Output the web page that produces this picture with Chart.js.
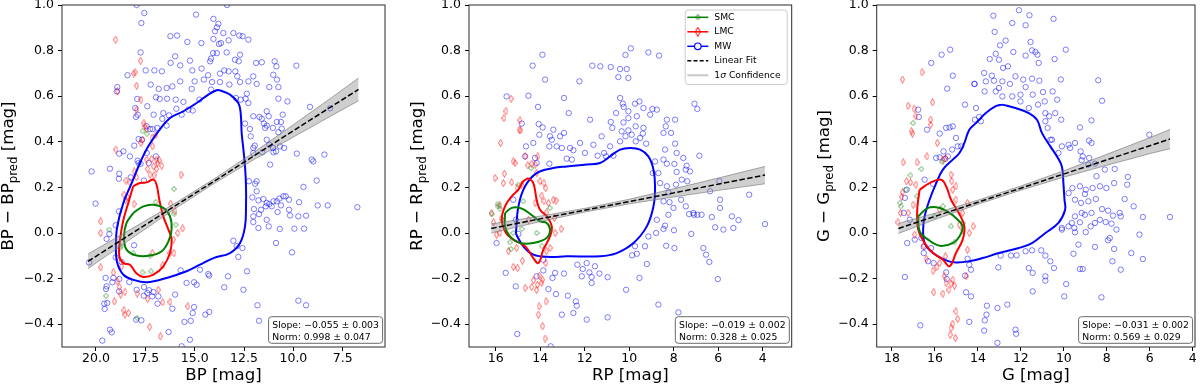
<!DOCTYPE html>
<html><head><meta charset="utf-8">
<script src="https://cdn.jsdelivr.net/npm/chart.js@4.4.1/dist/chart.umd.min.js"></script>
<style>
html,body{margin:0;padding:0;background:#fff;}
body{width:1200px;height:388px;position:relative;overflow:hidden;}
canvas{position:absolute;top:0;}
</style></head><body>
<canvas id="c1" width="400" height="388" style="left:0px"></canvas>
<canvas id="c2" width="400" height="388" style="left:400px"></canvas>
<canvas id="c3" width="400" height="388" style="left:800px"></canvas>
<script>
// ---------------- tick labels ----------------
const bpTicks = [20, 17.5, 15, 12.5, 10, 7.5];
const rpTicks = [16, 14, 12, 10, 8, 6, 4];
const gTicks = [18, 16, 14, 12, 10, 8, 6, 4];
const yTicks = [-0.4, -0.2, 0, 0.2, 0.4, 0.6, 0.8, 1.0];
const xTitles = ['BP [mag]', 'RP [mag]', 'G [mag]'];
const yBands = ['BP', 'RP', 'G'];
const seriesNames = ['SMC', 'LMC', 'MW'];

// ---------------- fit results ----------------
const fitSlope = [-0.055, -0.019, -0.031];
const fitSlopeErr = [0.003, 0.002, 0.002];
const fitNorm = [0.998, 0.328, 0.569];
const fitNormErr = [0.047, 0.025, 0.029];

// fitted lines (end points) and 1-sigma band
const bpFit = [[20.4, -0.124], [6.7, 0.630]];
const rpFit = [[16.2, 0.020], [3.9, 0.254]];
const gFit = [[17.7, 0.020], [5.06, 0.412]];
const bpBandX = [20.4, 18, 16, 14, 12, 10, 8, 6.7];
const bpBandUpper = [-0.092, 0.028, 0.130, 0.238, 0.354, 0.475, 0.598, 0.680];
const bpBandLower = [-0.156, -0.012, 0.106, 0.218, 0.322, 0.421, 0.518, 0.580];
const rpBandX = [16.2, 14, 12, 10, 8, 6, 3.9];
const rpBandUpper = [0.040, 0.074, 0.108, 0.148, 0.194, 0.241, 0.292];
const rpBandLower = [0.000, 0.050, 0.092, 0.128, 0.158, 0.187, 0.216];
const gBandX = [17.7, 16, 14, 12, 10, 8, 6, 5.06];
const gBandUpper = [0.042, 0.087, 0.144, 0.206, 0.273, 0.345, 0.418, 0.454];
const gBandLower = [-0.002, 0.059, 0.126, 0.188, 0.245, 0.297, 0.348, 0.370];

// ---------------- contours ----------------
const bpMWContour = [[13.72,0.626],[13.21,0.607],[12.79,0.570],[12.67,0.526],[12.62,0.439],[12.53,0.365],[12.45,0.292],[12.40,0.205],[12.40,0.117],[12.45,0.029],[12.70,-0.044],[13.21,-0.088],[14.05,-0.110],[14.73,-0.139],[15.41,-0.168],[16.42,-0.197],[17.43,-0.216],[18.11,-0.205],[18.61,-0.183],[18.92,-0.132],[18.99,-0.058],[18.92,0.029],[18.61,0.132],[18.19,0.219],[17.77,0.307],[17.35,0.380],[16.84,0.446],[16.25,0.504],[15.57,0.534],[14.90,0.570],[14.31,0.607],[13.89,0.626]];
const bpLMCContour = [[18.11,0.205],[17.77,0.219],[17.43,0.222],[17.09,0.234],[16.93,0.212],[16.79,0.146],[16.59,0.073],[16.33,0.015],[16.17,-0.029],[16.25,-0.088],[16.59,-0.146],[17.09,-0.183],[17.60,-0.193],[17.94,-0.178],[18.28,-0.139],[18.61,-0.132],[18.82,-0.102],[18.78,-0.029],[18.61,0.058],[18.36,0.132],[18.19,0.183]];
const bpSMCContour = [[18.11,0.088],[17.60,0.117],[17.09,0.124],[16.59,0.110],[16.25,0.073],[16.17,0.015],[16.33,-0.037],[16.67,-0.080],[17.26,-0.099],[17.94,-0.099],[18.45,-0.073],[18.58,-0.015],[18.45,0.044]];
const rpMWContour = [[15.09,0.000],[14.98,0.117],[14.68,0.205],[14.16,0.263],[13.41,0.285],[12.81,0.292],[11.91,0.300],[11.31,0.307],[10.86,0.336],[10.41,0.366],[9.96,0.373],[9.51,0.366],[9.14,0.336],[8.91,0.278],[8.84,0.205],[8.91,0.117],[9.21,0.029],[9.81,-0.044],[10.56,-0.088],[11.31,-0.102],[12.81,-0.102],[13.56,-0.105],[14.31,-0.095],[14.76,-0.058],[15.03,-0.015]];
const rpLMCContour = [[14.53,0.241],[14.31,0.219],[14.16,0.146],[14.01,0.102],[13.71,0.073],[13.48,0.029],[13.56,-0.015],[13.86,-0.073],[14.08,-0.132],[14.31,-0.110],[14.68,-0.058],[15.21,-0.029],[15.54,0.000],[15.73,0.058],[15.58,0.117],[15.28,0.161],[14.98,0.190],[14.76,0.227]];
const rpSMCContour = [[15.58,0.088],[15.28,0.110],[14.91,0.110],[14.61,0.095],[14.31,0.073],[14.01,0.051],[13.71,0.044],[13.56,0.015],[13.71,-0.022],[14.31,-0.044],[14.91,-0.044],[15.36,-0.015],[15.58,0.029]];
const gMWContour = [[12.86,0.563],[12.25,0.548],[11.63,0.526],[11.25,0.497],[11.02,0.439],[10.63,0.380],[10.32,0.336],[10.09,0.292],[10.02,0.219],[9.97,0.146],[9.94,0.102],[10.25,0.044],[10.86,0.000],[11.48,-0.044],[12.09,-0.066],[13.02,-0.088],[13.78,-0.110],[14.40,-0.124],[15.02,-0.129],[15.48,-0.120],[16.09,-0.088],[16.48,-0.044],[16.55,0.015],[16.48,0.073],[16.25,0.146],[15.94,0.219],[15.63,0.278],[15.17,0.322],[14.86,0.351],[14.63,0.395],[14.40,0.453],[14.09,0.482],[13.63,0.526],[13.17,0.556]];
const gLMCContour = [[16.71,0.190],[16.25,0.219],[15.71,0.234],[15.48,0.205],[15.25,0.146],[14.89,0.088],[14.63,0.029],[14.71,-0.029],[15.02,-0.088],[15.32,-0.146],[15.63,-0.117],[16.09,-0.088],[16.48,-0.044],[16.78,0.015],[16.83,0.088],[16.78,0.146]];
const gSMCContour = [[16.78,0.073],[16.32,0.110],[15.78,0.110],[15.32,0.088],[14.94,0.058],[14.71,0.029],[14.86,-0.015],[15.17,-0.044],[15.78,-0.056],[16.32,-0.029],[16.71,0.007]];

// ---------------- scatter points ----------------
const bpMW = [[17.94,1.0],[13.36,1.0],[17.55,0.965],[14.93,0.958],[17.70,0.921],[14.05,0.939],[13.80,0.917],[13.87,0.902],[13.97,0.885],[13.55,0.877],[13.04,0.877],[12.74,0.866],[12.57,0.863],[16.23,0.863],[15.89,0.866],[15.37,0.838],[14.66,0.833],[14.05,0.851],[13.67,0.833],[13.28,0.845],[12.28,0.848],[14.07,0.789],[13.88,0.789],[13.38,0.792],[13.77,0.829],[17.74,0.792],[15.99,0.775],[12.70,0.782],[14.17,0.765],[14.22,0.753],[12.96,0.760],[12.77,0.753],[11.60,0.749],[11.89,0.746],[10.95,0.753],[9.85,0.734],[10.86,0.731],[16.22,0.746],[15.73,0.735],[15.24,0.756],[17.48,0.713],[17.04,0.713],[16.66,0.709],[18.40,0.692],[15.12,0.713],[14.65,0.721],[14.32,0.692],[13.72,0.699],[13.50,0.713],[13.28,0.709],[12.94,0.709],[12.84,0.687],[12.03,0.687],[11.02,0.694],[10.83,0.673],[15.73,0.665],[15.00,0.665],[14.54,0.673],[14.12,0.662],[13.72,0.662],[12.70,0.662],[12.28,0.665],[11.86,0.654],[18.92,0.640],[18.94,0.621],[17.23,0.651],[16.82,0.632],[16.42,0.636],[16.13,0.643],[15.15,0.632],[14.17,0.629],[13.24,0.651],[12.36,0.611],[11.22,0.640],[10.76,0.640],[17.91,0.588],[16.96,0.595],[16.77,0.588],[16.40,0.589],[15.96,0.585],[15.57,0.575],[14.76,0.585],[12.91,0.592],[12.67,0.585],[12.42,0.589],[12.28,0.570],[10.76,0.589],[10.30,0.577],[9.16,0.553],[8.14,0.547],[18.01,0.548],[17.40,0.556],[17.08,0.519],[16.59,0.526],[16.30,0.516],[15.93,0.545],[15.66,0.519],[15.32,0.541],[15.10,0.537],[17.97,0.509],[17.89,0.519],[17.43,0.468],[17.13,0.456],[16.89,0.461],[16.64,0.501],[16.42,0.471],[12.03,0.512],[11.72,0.509],[11.60,0.501],[11.35,0.534],[11.25,0.512],[10.54,0.519],[10.63,0.487],[12.45,0.480],[11.49,0.480],[11.35,0.471],[11.43,0.461],[11.04,0.461],[10.84,0.487],[10.59,0.458],[10.76,0.442],[12.20,0.456],[17.26,0.456],[17.67,0.409],[18.06,0.383],[17.84,0.412],[17.43,0.351],[16.96,0.336],[12.16,0.424],[11.96,0.383],[12.03,0.373],[11.35,0.409],[11.22,0.387],[11.03,0.373],[10.68,0.380],[10.47,0.373],[11.01,0.354],[12.03,0.351],[11.57,0.354],[11.18,0.300],[10.88,0.358],[9.83,0.348],[9.07,0.322],[8.99,0.314],[8.43,0.344],[18.61,0.358],[18.82,0.348],[18.28,0.336],[17.89,0.317],[17.84,0.307],[17.74,0.303],[17.33,0.307],[19.29,0.282],[18.82,0.260],[20.22,0.270],[18.84,0.238],[18.24,0.244],[17.57,0.230],[12.25,0.227],[11.86,0.227],[11.94,0.216],[11.86,0.183],[11.77,0.143],[11.52,0.149],[12.08,0.156],[12.00,0.105],[11.64,0.102],[11.40,0.117],[11.35,0.132],[11.10,0.117],[11.22,0.127],[11.01,0.139],[10.84,0.139],[10.71,0.151],[10.51,0.161],[10.39,0.161],[10.63,0.121],[10.80,0.092],[10.22,0.146],[10.22,0.102],[9.71,0.135],[9.49,0.202],[8.82,0.230],[8.77,0.121],[8.26,0.121],[9.75,0.073],[9.36,0.076],[10.17,0.077],[9.95,0.019],[9.46,0.019],[10.69,0.018],[11.25,0.029],[11.35,0.058],[12.03,0.048],[11.77,0.022],[11.74,0.083],[10.07,-0.085],[12.03,0.073],[10.88,-0.044],[9.75,-0.297],[9.36,-0.317],[11.82,-0.317],[11.74,-0.385],[6.76,0.113],[13.04,-0.034],[12.87,-0.058],[12.58,-0.066],[12.79,-0.105],[12.53,-0.249],[12.35,-0.168],[13.31,-0.190],[13.50,-0.238],[14.31,-0.180],[14.26,-0.187],[14.73,-0.161],[15.71,-0.164],[15.41,-0.219],[15.03,-0.216],[14.90,-0.227],[15.03,-0.325],[15.10,-0.351],[14.46,-0.358],[14.26,-0.346],[15.52,-0.390],[15.20,-0.385],[15.24,-0.468],[15.66,-0.497],[16.32,-0.434],[16.13,-0.332],[15.99,-0.270],[16.88,-0.310],[17.09,-0.259],[17.31,-0.251],[17.57,-0.237],[17.40,-0.263],[17.15,-0.278],[16.84,-0.278],[17.94,-0.249],[18.31,-0.215],[18.82,-0.202],[19.12,-0.197],[19.17,-0.216],[19.51,-0.197],[19.46,-0.234],[19.49,-0.246],[18.83,-0.256],[19.58,-0.310],[19.56,-0.333],[19.43,-0.307],[19.29,-0.424],[19.20,-0.436],[19.68,-0.472],[17.70,-0.383],[17.97,-0.380],[17.58,-0.275],[19.00,-0.107],[18.70,-0.127],[19.46,-0.026],[19.32,-0.004],[19.00,0.034],[18.83,0.095],[18.07,-0.054],[20.35,-0.129],[20.02,0.129]];
const bpLMC = [[19.00,0.848],[18.92,0.621],[17.94,0.646],[17.74,0.756],[18.08,0.699],[18.02,0.705],[17.72,0.585],[17.94,0.541],[17.57,0.482],[17.52,0.468],[17.42,0.456],[17.72,0.395],[17.64,0.409],[17.16,0.417],[16.96,0.431],[17.13,0.380],[18.99,0.366],[17.43,0.322],[17.18,0.325],[16.93,0.322],[16.79,0.319],[16.67,0.295],[16.88,0.307],[17.08,0.292],[16.93,0.281],[17.38,0.281],[17.26,0.256],[17.06,0.253],[18.06,0.270],[17.94,0.244],[15.69,0.256],[18.58,0.168],[18.41,0.158],[18.51,0.146],[18.07,0.127],[16.22,0.129],[16.00,0.095],[15.61,0.020],[15.86,0.000],[16.08,-0.029],[16.05,-0.088],[16.25,-0.088],[16.62,-0.142],[19.76,0.051],[19.76,0.000],[19.76,-0.151],[19.12,-0.173],[18.92,-0.212],[18.82,-0.237],[18.75,-0.270],[19.07,-0.300],[18.58,-0.339],[18.53,-0.358],[18.36,-0.351],[18.53,-0.259],[17.91,-0.266],[17.38,-0.289],[16.84,-0.249],[16.62,-0.304],[16.25,-0.303],[15.35,-0.322],[16.74,-0.453],[17.28,-0.412],[18.70,-0.146],[17.15,-0.088],[18.48,0.230],[18.28,0.222]];
const bpSMC = [[16.05,0.193],[16.98,0.136],[17.43,0.436],[17.64,0.446],[19.32,0.015],[18.78,-0.066],[18.75,-0.058],[18.11,-0.088],[17.26,-0.099],[17.21,-0.168],[17.64,-0.173],[19.49,-0.275],[17.91,-0.373],[16.03,0.085],[15.96,0.037]];

const rpMW = [[13.90,0.782],[14.34,0.734],[13.78,0.673],[12.24,0.665],[11.66,0.734],[11.30,0.731],[10.83,0.728],[10.41,0.719],[10.11,0.719],[10.04,0.680],[10.49,0.684],[10.17,0.781],[9.93,0.810],[9.14,0.792],[8.66,0.778],[15.51,0.599],[14.53,0.602],[12.93,0.592],[14.10,0.553],[14.83,0.480],[14.64,0.380],[14.07,0.478],[13.89,0.463],[14.04,0.431],[13.41,0.453],[13.56,0.424],[13.11,0.424],[12.72,0.526],[12.93,0.439],[13.48,0.409],[13.59,0.380],[13.26,0.380],[13.03,0.373],[12.66,0.373],[12.51,0.363],[12.21,0.395],[11.76,0.497],[11.99,0.351],[11.61,0.387],[11.24,0.424],[11.42,0.339],[10.86,0.380],[10.71,0.339],[11.04,0.336],[11.13,0.351],[10.59,0.526],[10.41,0.592],[10.29,0.567],[10.25,0.553],[10.04,0.534],[9.74,0.567],[9.54,0.577],[9.36,0.548],[8.96,0.544],[8.76,0.541],[9.06,0.519],[9.66,0.512],[10.04,0.504],[10.26,0.485],[10.83,0.487],[10.76,0.461],[10.34,0.446],[10.04,0.450],[9.71,0.468],[9.36,0.461],[9.39,0.436],[9.51,0.417],[9.89,0.431],[10.17,0.424],[10.41,0.402],[9.71,0.402],[9.24,0.392],[8.46,0.439],[8.31,0.497],[7.94,0.497],[8.12,0.439],[7.94,0.392],[8.36,0.468],[8.39,0.366],[7.87,0.351],[7.57,0.329],[7.42,0.295],[7.46,0.278],[6.85,0.339],[7.07,0.567],[6.94,0.544],[7.27,0.270],[8.46,0.322],[8.31,0.304],[7.97,0.303],[7.87,0.268],[7.64,0.234],[7.39,0.227],[8.84,0.314],[8.94,0.263],[8.69,0.263],[8.61,0.219],[8.31,0.205],[7.90,0.212],[8.24,0.178],[8.46,0.139],[8.19,0.135],[8.01,0.110],[7.67,0.146],[7.46,0.117],[7.31,0.083],[7.09,0.080],[6.94,0.080],[6.75,0.080],[7.21,-0.004],[7.99,0.012],[8.39,0.032],[8.76,0.058],[8.24,0.080],[8.46,0.018],[8.79,0.000],[8.34,-0.056],[7.97,-0.066],[9.14,-0.015],[9.29,-0.058],[9.74,-0.058],[9.66,-0.091],[9.87,-0.098],[9.21,-0.136],[9.54,-0.197],[8.69,-0.314],[7.79,-0.348],[10.14,-0.249],[10.97,-0.194],[11.54,-0.146],[11.34,-0.178],[11.79,-0.173],[11.69,-0.193],[12.09,-0.158],[12.33,-0.139],[12.13,-0.190],[11.91,-0.132],[11.69,-0.219],[11.91,-0.380],[10.97,-0.370],[12.40,-0.300],[12.36,-0.319],[12.51,-0.351],[12.76,-0.275],[13.03,-0.358],[13.29,-0.268],[13.33,-0.175],[13.45,-0.197],[13.63,-0.246],[12.93,-0.178],[13.86,-0.164],[13.86,-0.117],[14.16,-0.190],[13.53,-0.497],[15.03,-0.443],[15.10,-0.234],[15.55,-0.175],[14.98,-0.004],[15.09,0.058],[15.21,0.146],[14.68,0.336],[6.29,0.070],[6.14,0.025],[5.92,0.146],[5.92,0.110],[6.02,-0.202],[6.40,-0.127],[6.67,-0.066],[6.55,-0.095],[5.39,0.073],[5.77,0.015],[5.32,0.022],[5.09,0.056],[4.61,0.168],[3.90,0.039],[5.95,0.227],[6.37,0.183],[7.12,0.088],[15.96,-0.044],[14.31,0.395],[14.16,0.307],[14.23,0.329],[13.59,0.304],[12.81,0.326],[12.58,0.322]];
const rpLMC = [[15.31,0.589],[15.54,0.534],[15.63,0.504],[15.78,0.395],[14.91,0.494],[14.94,0.453],[14.88,0.450],[14.68,0.336],[15.21,0.314],[15.13,0.307],[15.61,0.260],[16.03,0.241],[15.66,0.219],[16.18,0.088],[16.10,0.047],[15.81,0.121],[15.28,0.222],[15.03,0.197],[14.83,0.212],[14.56,0.297],[14.38,0.304],[14.23,0.300],[14.11,0.336],[14.16,0.263],[14.01,0.227],[13.83,0.219],[13.75,0.197],[13.93,0.164],[13.63,0.132],[13.41,0.146],[13.29,0.142],[13.83,0.139],[14.23,0.132],[13.71,0.091],[13.36,0.066],[13.06,0.018],[13.33,0.000],[13.56,-0.066],[13.71,-0.080],[13.75,-0.132],[14.04,-0.187],[13.90,-0.205],[14.13,-0.227],[14.38,-0.237],[14.68,-0.241],[14.31,-0.208],[14.16,-0.249],[13.93,-0.219],[13.74,-0.300],[14.05,-0.322],[14.08,-0.358],[13.89,-0.409],[13.78,-0.463],[14.80,-0.121],[15.01,-0.154],[15.21,-0.149],[15.43,-0.080],[15.81,0.000],[15.96,-0.007],[15.06,-0.066],[14.53,0.058],[15.76,0.061]];
const rpSMC = [[16.18,0.083],[15.91,0.117],[15.81,0.107],[15.91,0.127],[15.66,0.058],[15.36,-0.041],[15.31,-0.070],[14.41,0.285],[14.98,0.212],[14.76,0.139],[13.56,0.110],[13.93,-0.058],[14.16,0.000],[15.21,0.000],[14.83,0.018]];

const gMW = [[13.28,0.953],[12.09,0.977],[11.60,0.955],[10.48,0.939],[12.40,0.921],[11.78,0.911],[13.22,0.882],[12.71,0.844],[12.97,0.823],[12.35,0.794],[11.55,0.838],[11.48,0.801],[11.32,0.794],[11.23,0.782],[13.17,0.786],[13.02,0.760],[13.45,0.763],[11.78,0.778],[11.17,0.746],[10.43,0.763],[9.91,0.804],[12.60,0.731],[12.83,0.724],[13.71,0.702],[13.35,0.690],[12.25,0.687],[11.89,0.673],[11.48,0.677],[11.14,0.668],[10.14,0.673],[13.25,0.668],[12.86,0.665],[12.51,0.654],[11.78,0.640],[14.15,0.654],[13.69,0.621],[13.17,0.621],[13.02,0.636],[12.86,0.599],[12.40,0.599],[12.02,0.607],[11.45,0.607],[10.97,0.618],[10.52,0.621],[10.31,0.585],[10.89,0.577],[11.20,0.563],[11.63,0.548],[12.02,0.577],[10.86,0.526],[10.68,0.512],[10.40,0.526],[10.12,0.497],[10.86,0.490],[10.75,0.461],[10.55,0.409],[10.62,0.409],[10.25,0.351],[10.09,0.380],[9.78,0.387],[9.71,0.373],[9.48,0.395],[9.25,0.463],[8.71,0.494],[8.40,0.670],[8.22,0.580],[8.83,0.405],[8.71,0.395],[9.22,0.358],[9.12,0.336],[9.17,0.319],[8.86,0.300],[8.82,0.329],[8.55,0.304],[8.48,0.249],[8.09,0.278],[7.63,0.281],[7.66,0.219],[8.02,0.197],[8.32,0.205],[8.66,0.197],[8.98,0.190],[9.25,0.205],[9.60,0.197],[9.78,0.175],[9.48,0.146],[9.20,0.132],[9.02,0.171],[8.86,0.139],[8.51,0.149],[8.22,0.105],[7.94,0.098],[8.71,0.088],[9.02,0.080],[9.17,0.088],[9.48,0.073],[9.63,0.044],[9.78,0.029],[9.51,0.022],[9.25,0.047],[8.75,0.029],[8.55,0.044],[8.32,0.058],[8.05,0.048],[7.78,0.041],[7.71,0.076],[7.40,0.088],[7.35,0.073],[7.05,0.212],[7.02,0.246],[7.17,0.149],[6.75,0.117],[6.32,0.070],[6.48,-0.007],[6.86,-0.088],[6.32,-0.114],[7.55,0.015],[7.86,-0.022],[7.94,-0.032],[7.66,-0.070],[7.74,-0.124],[7.35,-0.161],[8.25,-0.282],[8.55,-0.061],[8.98,0.004],[9.32,-0.051],[9.48,0.003],[9.55,-0.091],[9.25,-0.158],[9.12,-0.158],[9.89,-0.224],[9.98,-0.278],[10.09,0.015],[10.09,0.022],[10.46,-0.154],[10.63,-0.124],[10.86,-0.099],[11.05,-0.076],[11.48,-0.076],[11.78,-0.080],[12.20,-0.098],[12.46,-0.099],[12.94,-0.099],[13.05,-0.151],[11.63,-0.154],[11.45,-0.175],[10.86,-0.190],[10.86,-0.209],[11.45,-0.256],[12.63,-0.314],[13.09,-0.329],[13.58,-0.319],[13.60,-0.358],[13.68,-0.383],[13.71,-0.428],[13.09,-0.482],[12.25,-0.424],[12.22,-0.442],[14.40,-0.390],[14.32,-0.278],[14.55,-0.260],[14.60,-0.187],[14.32,-0.161],[14.40,-0.139],[14.48,-0.113],[15.45,-0.202],[15.48,-0.173],[16.06,-0.132],[16.18,-0.066],[16.52,-0.088],[16.32,-0.124],[16.52,-0.061],[16.63,-0.022],[16.94,-0.029],[17.29,-0.044],[17.40,-0.193],[16.68,-0.405],[17.17,0.058],[17.45,0.088],[17.40,0.154],[17.32,0.190],[16.48,0.234],[16.09,0.216],[15.94,0.329],[15.60,0.358],[15.20,0.366],[15.48,0.461],[15.32,0.463],[15.17,0.468],[15.43,0.633],[15.17,0.690],[15.69,0.782],[15.29,0.804],[16.17,0.746],[16.37,0.453],[16.78,0.541],[16.75,0.509],[15.78,0.436],[15.02,0.417],[14.94,0.380],[14.78,0.380],[14.60,0.563],[14.09,0.548],[13.94,0.509],[13.86,0.490],[13.63,0.665],[14.14,0.497],[14.17,0.654],[15.78,0.332],[15.52,0.325],[15.40,0.336],[5.06,0.070],[6.02,0.431]];
const gLMC = [[17.51,0.673],[16.60,0.705],[16.11,0.573],[17.25,0.558],[16.97,0.545],[16.89,0.512],[17.09,0.446],[17.05,0.436],[16.20,0.497],[16.20,0.475],[15.89,0.395],[16.37,0.336],[17.48,0.310],[16.83,0.310],[17.32,0.227],[17.14,0.222],[16.89,0.212],[17.51,0.178],[17.55,0.158],[17.72,0.047],[17.60,0.088],[17.25,0.088],[17.02,0.124],[15.63,0.322],[15.51,0.329],[15.25,0.256],[15.22,0.227],[15.17,0.190],[15.02,0.205],[15.02,0.146],[14.71,0.088],[14.48,0.132],[14.86,0.037],[14.71,0.015],[14.40,0.000],[14.22,0.029],[14.49,-0.073],[15.78,0.102],[16.94,-0.007],[16.52,-0.056],[16.40,-0.113],[16.09,-0.165],[15.91,-0.149],[15.78,-0.132],[16.06,-0.260],[15.63,-0.266],[15.48,-0.219],[15.35,-0.249],[15.25,-0.222],[15.09,-0.231],[15.17,-0.205],[15.55,-0.190],[15.02,-0.344],[14.94,-0.377],[15.17,-0.398],[15.25,-0.417],[15.29,-0.446],[15.05,-0.461],[14.55,-0.190],[15.51,-0.102]];
const gSMC = [[17.63,0.132],[17.58,0.117],[17.35,0.190],[17.14,0.253],[17.02,0.482],[16.63,0.281],[16.83,0.161],[15.66,0.311],[15.63,0.117],[15.25,0.029],[15.09,-0.041],[14.71,0.044],[16.02,0.073]];

// ---------------- helpers ----------------
Chart.defaults.font.family = "'DejaVu Sans', sans-serif";
Chart.defaults.color = '#000';
const FONT = "'DejaVu Sans', sans-serif";
const toXY = a => a.map(p => ({x: p[0], y: p[1]}));
const closed = a => toXY(a.concat([a[0]]));
const bandXY = (xs, ys) => xs.map((x, i) => ({x: x, y: ys[i]}));
const fmtSigned = v => (v < 0 ? '\u2212' : '') + Math.abs(v).toFixed(3);

function diamondImg(w, h, color) {
  const c = document.createElement('canvas');
  c.width = w; c.height = h;
  const g = c.getContext('2d');
  g.strokeStyle = color; g.lineWidth = 1;
  g.beginPath();
  g.moveTo(w / 2, 0.5); g.lineTo(w - 0.5, h / 2); g.lineTo(w / 2, h - 0.5); g.lineTo(0.5, h / 2);
  g.closePath(); g.stroke();
  return c;
}
const redDiamond = diamondImg(5, 8, 'rgba(255,0,0,0.6)');
const greenDiamond = diamondImg(6, 6, 'rgba(0,128,0,0.65)');
const legRed = diamondImg(6, 10, 'rgb(255,0,0)');
const legGreen = diamondImg(6, 6, 'rgb(0,128,0)');

function roundRect(ctx, x, y, w, h, r) {
  ctx.beginPath();
  ctx.moveTo(x + r, y);
  ctx.lineTo(x + w - r, y); ctx.arcTo(x + w, y, x + w, y + r, r);
  ctx.lineTo(x + w, y + h - r); ctx.arcTo(x + w, y + h, x + w - r, y + h, r);
  ctx.lineTo(x + r, y + h); ctx.arcTo(x, y + h, x, y + h - r, r);
  ctx.lineTo(x, y + r); ctx.arcTo(x, y, x + r, y, r);
  ctx.closePath();
}

function drawLegend(ctx, right, top) {
  const w = 102, h = 74.5;
  const lx = right - 5 - w, ly = top + 4.5;
  roundRect(ctx, lx + 0.5, ly + 0.5, w, h, 3);
  ctx.fillStyle = 'rgba(255,255,255,0.85)'; ctx.fill();
  ctx.strokeStyle = '#cccccc'; ctx.lineWidth = 1; ctx.stroke();
  const x0 = lx + 2.6, x1 = lx + 23.6, xm = (x0 + x1) / 2, tx = lx + 29.6;
  const rows = [0, 1, 2, 3, 4].map(i => ly + 7.8 + i * 14.5);
  const line = (y, col, lw, dash) => {
    ctx.save(); ctx.strokeStyle = col; ctx.lineWidth = lw; ctx.setLineDash(dash || []);
    ctx.beginPath(); ctx.moveTo(x0, y); ctx.lineTo(x1, y); ctx.stroke(); ctx.restore();
  };
  line(rows[0], 'green', 1.5); ctx.drawImage(legGreen, xm - 3, rows[0] - 3);
  line(rows[1], 'red', 1.5); ctx.fillStyle = '#fff'; ctx.drawImage(legRed, xm - 3, rows[1] - 5);
  line(rows[2], 'blue', 1.5);
  ctx.beginPath(); ctx.arc(xm, rows[2], 3.3, 0, Math.PI * 2); ctx.fillStyle = '#fff'; ctx.fill();
  ctx.strokeStyle = 'blue'; ctx.lineWidth = 1.2; ctx.stroke();
  line(rows[3], '#000', 1.5, [4, 2.2]);
  line(rows[4], '#c8c8c8', 2);
  ctx.fillStyle = '#000'; ctx.textBaseline = 'middle'; ctx.textAlign = 'left';
  ctx.font = '9.2px ' + FONT;
  const labels = [seriesNames[0], seriesNames[1], seriesNames[2], 'Linear Fit'];
  labels.forEach((t, i) => ctx.fillText(t, tx, rows[i]));
  ctx.fillText('1', tx, rows[4]);
  const w1 = ctx.measureText('1').width;
  ctx.font = 'italic 9.2px ' + FONT;
  ctx.fillText('\u03c3', tx + w1, rows[4]);
  const w2 = ctx.measureText('\u03c3').width;
  ctx.font = '9.2px ' + FONT;
  ctx.fillText(' Confidence', tx + w1 + w2, rows[4]);
}

function decoPlugin(idx, yTitleBase, withLegend) {
  return {
    id: 'deco' + idx,
    afterDraw(chart) {
      const ctx = chart.ctx;
      const {left, top, right, bottom} = chart.chartArea;
      ctx.save();
      // frame
      ctx.strokeStyle = '#2a2a2a'; ctx.lineWidth = 1;
      ctx.strokeRect(left, top, right - left, bottom - top);
      // y title with subscript
      const band = yBands[idx];
      const parts = [
        {t: band + ' \u2212 ' + band, s: 16.6, dy: 0},
        {t: 'pred', s: 11.8, dy: 3.8},
        {t: ' [mag]', s: 16.6, dy: 0}
      ];
      let total = 0;
      parts.forEach(p => { ctx.font = p.s + 'px ' + FONT; p.w = ctx.measureText(p.t).width; total += p.w; });
      ctx.save();
      ctx.translate(yTitleBase, (top + bottom) / 2);
      ctx.rotate(-Math.PI / 2);
      ctx.fillStyle = '#000'; ctx.textBaseline = 'alphabetic'; ctx.textAlign = 'left';
      let x = -total / 2;
      parts.forEach(p => { ctx.font = p.s + 'px ' + FONT; ctx.fillText(p.t, x, p.dy); x += p.w; });
      ctx.restore();
      // stats box
      ctx.font = '9.3px ' + FONT;
      const l1 = 'Slope: ' + fmtSigned(fitSlope[idx]) + ' \u00b1 ' + fitSlopeErr[idx].toFixed(3);
      const l2 = 'Norm: ' + fmtSigned(fitNorm[idx]) + ' \u00b1 ' + fitNormErr[idx].toFixed(3);
      const bw = Math.max(ctx.measureText(l1).width, ctx.measureText(l2).width) + 7.4;
      const bh = 26.6;
      const bx = right - 2.4 - bw, by = bottom - 3.7 - bh;
      roundRect(ctx, bx, by, bw, bh, 3);
      ctx.fillStyle = '#fff'; ctx.fill();
      ctx.strokeStyle = '#6a6a6a'; ctx.lineWidth = 1; ctx.stroke();
      ctx.fillStyle = '#000'; ctx.textBaseline = 'alphabetic'; ctx.textAlign = 'left';
      ctx.fillText(l1, bx + 3.7, by + 11.4);
      ctx.fillText(l2, bx + 3.7, by + 23.4);
      if (withLegend) drawLegend(ctx, right, top);
      ctx.restore();
    }
  };
}

function makeChart(canvasId, idx, cfg) {
  const datasets = [
    {label: 'Linear Fit', data: toXY(cfg.fit), showLine: true, borderColor: '#000', borderWidth: 1.5,
     borderDash: [5.5, 2.4], pointRadius: 0, fill: false},
    {label: 'band upper', data: bandXY(cfg.bandX, cfg.bandUpper), showLine: true, borderColor: 'rgba(110,110,110,0.75)',
     borderWidth: 0.8, pointRadius: 0, fill: '+1', backgroundColor: 'rgba(128,128,128,0.38)'},
    {label: 'band lower', data: bandXY(cfg.bandX, cfg.bandLower), showLine: true, borderColor: 'rgba(110,110,110,0.75)',
     borderWidth: 0.8, pointRadius: 0, fill: false},
    {label: 'SMC contour', data: closed(cfg.smcC), showLine: true, borderColor: 'green', borderWidth: 2, pointRadius: 0, tension: 0.4, fill: false},
    {label: 'LMC contour', data: closed(cfg.lmcC), showLine: true, borderColor: 'red', borderWidth: 2, pointRadius: 0, tension: 0.4, fill: false},
    {label: 'MW contour', data: closed(cfg.mwC), showLine: true, borderColor: 'blue', borderWidth: 2, pointRadius: 0, tension: 0.4, fill: false},
    {label: 'SMC', data: toXY(cfg.smc), showLine: false, pointStyle: greenDiamond, pointRadius: 3},
    {label: 'LMC', data: toXY(cfg.lmc), showLine: false, pointStyle: redDiamond, pointRadius: 3},
    {label: 'MW', data: toXY(cfg.mw), showLine: false, pointStyle: 'circle', pointRadius: 2.7,
     borderColor: 'rgba(0,0,255,0.5)', backgroundColor: 'rgba(0,0,0,0)', borderWidth: 1}
  ];
  return new Chart(document.getElementById(canvasId), {
    type: 'scatter',
    data: {datasets: datasets},
    options: {
      responsive: false, animation: false, devicePixelRatio: 1, events: [],
      layout: {padding: {left: 0, top: 5, right: cfg.padRight, bottom: 0}},
      plugins: {legend: {display: false}, tooltip: {enabled: false}},
      scales: {
        x: {
          type: 'linear', reverse: true, min: cfg.xMin, max: cfg.xMax,
          afterBuildTicks: s => { s.ticks = cfg.ticks.map(v => ({value: v})); },
          afterFit: s => { s.height = 41; s.paddingLeft = 0; s.paddingRight = 0; },
          ticks: {callback: cfg.tickFmt, font: {size: 12.5}, color: '#000', padding: 0, maxRotation: 0, autoSkip: false},
          grid: {drawOnChartArea: false, drawTicks: true, tickLength: 4, tickColor: '#000', tickWidth: 1},
          border: {display: false},
          title: {display: true, text: xTitles[idx], font: {size: 16.6}, color: '#000', padding: {top: 0, bottom: 2.5}}
        },
        y: {
          type: 'linear', min: -0.5, max: 1.0,
          afterBuildTicks: s => { s.ticks = yTicks.map(v => ({value: v})); },
          afterFit: s => { s.width = cfg.yWidth; s.paddingTop = 0; s.paddingBottom = 0; },
          ticks: {callback: v => (v < 0 ? '\u2212' : '') + Math.abs(v).toFixed(1), font: {size: 12.5}, color: '#000', padding: 4, autoSkip: false},
          grid: {drawOnChartArea: false, drawTicks: true, tickLength: 4, tickColor: '#000', tickWidth: 1},
          border: {display: false}
        }
      }
    },
    plugins: [decoPlugin(idx, cfg.yTitleBase, cfg.legend)]
  });
}

makeChart('c1', 0, {
  fit: bpFit, bandX: bpBandX, bandUpper: bpBandUpper, bandLower: bpBandLower,
  smcC: bpSMCContour, lmcC: bpLMCContour, mwC: bpMWContour, smc: bpSMC, lmc: bpLMC, mw: bpMW,
  xMin: 5.36, xMax: 21.72, ticks: bpTicks, tickFmt: v => Number(v).toFixed(1),
  yWidth: 62, padRight: 15, yTitleBase: 13.3, legend: false
});
makeChart('c2', 1, {
  fit: rpFit, bandX: rpBandX, bandUpper: rpBandUpper, bandLower: rpBandLower,
  smcC: rpSMCContour, lmcC: rpLMCContour, mwC: rpMWContour, smc: rpSMC, lmc: rpLMC, mw: rpMW,
  xMin: 2.7, xMax: 17.2, ticks: rpTicks, tickFmt: v => String(v),
  yWidth: 69, padRight: 8.3, yTitleBase: 21.7, legend: true
});
makeChart('c3', 2, {
  fit: gFit, bandX: gBandX, bandUpper: gBandUpper, bandLower: gBandLower,
  smcC: gSMCContour, lmcC: gLMCContour, mwC: gMWContour, smc: gSMC, lmc: gLMC, mw: gMW,
  xMin: 3.894, xMax: 18.711, ticks: gTicks, tickFmt: v => String(v),
  yWidth: 76.7, padRight: 2.5, yTitleBase: 29.3, legend: false
});
</script>
</body></html>
